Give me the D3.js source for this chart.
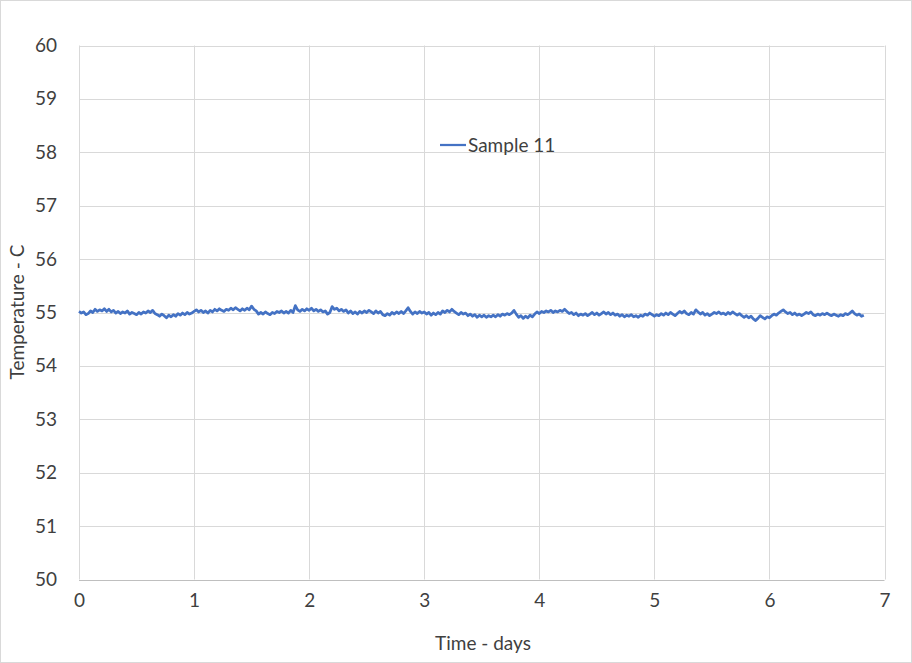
<!DOCTYPE html>
<html><head><meta charset="utf-8">
<script src="https://cdn.jsdelivr.net/npm/d3@7"></script>
<style>body{margin:0;background:#fff}svg{display:block}text{font-family:Lato,"Open Sans",sans-serif;fill:#3f3f3f}</style>
</head><body><svg id="c" width="912" height="663"></svg>
<script>
const seriesName = "Sample 11";
const xTicks = [0,1,2,3,4,5,6,7];
const yTicks = [50,51,52,53,54,55,56,57,58,59,60];
const timeStepDays = 0.02;
const temps = [
55.02,54.99,55.01,54.96,54.98, 55.03,55.00,55.06,55.02,55.05, 55.03,55.07,55.02,55.06,55.01, 55.04,54.99,55.02,54.98,55.01,
54.99,55.03,54.97,55.00,54.98, 54.96,55.00,54.97,55.01,54.99, 55.03,55.00,55.04,54.98,54.96, 54.93,54.97,54.94,54.90,54.95,
54.92,54.96,54.93,54.98,54.95, 54.99,54.96,55.00,54.97,54.99, 55.02,55.05,55.01,55.04,55.00, 55.03,54.99,55.04,55.01,55.06,
55.03,55.07,55.04,55.02,55.06, 55.04,55.08,55.05,55.09,55.06, 55.03,55.07,55.04,55.08,55.05, 55.12,55.06,55.03,54.97,55.00,
54.97,55.01,54.98,54.96,55.00, 54.98,55.02,55.00,55.03,54.99, 55.02,54.99,55.04,55.00,55.13, 55.05,55.02,55.06,55.03,55.07,
55.04,55.08,55.03,55.06,55.02, 55.05,55.01,55.03,54.97,55.00, 55.11,55.06,55.08,55.03,55.06, 55.02,55.05,54.99,55.03,54.98,
55.01,54.97,55.02,54.99,55.03, 55.00,55.04,55.01,54.98,55.03, 54.99,55.02,54.96,54.94,54.98, 54.95,55.00,54.97,55.01,54.98,
55.02,54.98,55.03,55.09,55.02, 54.97,55.01,54.98,55.02,54.99, 55.01,54.97,55.00,54.95,54.99, 54.96,55.00,54.97,55.03,55.00,
55.04,55.01,55.06,55.02,54.99, 54.96,55.00,54.97,54.99,54.94, 54.97,54.93,54.96,54.91,54.95, 54.92,54.95,54.91,54.94,54.92,
54.95,54.92,54.96,54.93,54.97, 54.95,54.98,54.96,54.99,55.04, 54.97,54.91,54.94,54.89,54.93, 54.90,54.95,54.92,54.97,55.01,
54.98,55.02,55.00,55.03,55.01, 55.04,55.00,55.03,55.01,55.04, 55.02,55.06,55.02,54.98,55.00, 54.96,54.99,54.94,54.97,54.95,
54.98,54.94,54.97,55.00,54.96, 54.99,54.95,54.98,55.01,54.97, 55.00,54.96,54.99,54.95,54.97, 54.93,54.96,54.92,54.95,54.93,
54.96,54.92,54.94,54.91,54.95, 54.93,54.97,54.95,54.99,54.96, 54.93,54.96,54.94,54.98,54.95, 54.99,54.96,55.00,54.97,54.94,
54.98,55.02,54.99,55.03,54.98, 54.96,55.00,54.97,55.05,55.01, 54.97,55.00,54.95,54.98,54.94, 54.97,55.00,54.98,55.01,54.97,
54.99,54.96,55.00,54.97,55.01, 54.98,54.95,54.98,54.94,54.91, 54.94,54.90,54.93,54.88,54.85, 54.89,54.94,54.91,54.88,54.92,
54.90,54.94,54.97,54.95,54.99, 55.02,55.05,55.01,54.98,55.00, 54.96,54.99,54.95,54.97,54.94, 54.97,55.00,54.98,55.01,54.96,
54.94,54.97,54.95,54.98,54.96, 54.99,54.96,54.94,54.97,54.95, 54.93,54.96,54.94,54.98,54.96, 54.99,55.03,54.98,54.95,54.97,
54.93,54.95
];
const data = temps.map((v, i) => ({t: i * timeStepDays, v}));

const svg = d3.select("#c");
svg.append("rect").attr("x",0.5).attr("y",0.5).attr("width",911).attr("height",662)
  .attr("fill","#fff").attr("stroke","#d9d9d9");

const L = 79, R = 884.5, T = 45.5, B = 579.5;
const x = d3.scaleLinear().domain([0,7]).range([L,R]);
const y = d3.scaleLinear().domain([50,60]).range([B,T]);

const g = svg.append("g");
g.selectAll(".hg").data(yTicks).join("line")
  .attr("x1",L).attr("x2",R).attr("y1",d=>Math.round(y(d))+0.5).attr("y2",d=>Math.round(y(d))+0.5)
  .attr("stroke",d=>d===50?"#bfbfbf":"#d9d9d9").attr("stroke-width",1);
g.selectAll(".vg").data(xTicks).join("line")
  .attr("y1",T).attr("y2",B).attr("x1",d=>Math.round(x(d))+0.5).attr("x2",d=>Math.round(x(d))+0.5)
  .attr("stroke","#d9d9d9").attr("stroke-width",1);

// y axis labels
const yAxis = d3.axisLeft(y).tickValues(yTicks).tickFormat(d3.format("d")).tickSize(0).tickPadding(22);
const ya = svg.append("g").attr("transform",`translate(${L},0)`).call(yAxis);
ya.select(".domain").remove();
ya.selectAll("text").attr("font-size","19px").attr("fill","#3f3f3f").style("font-family","Lato");
// x axis labels
const xAxis = d3.axisBottom(x).tickValues(xTicks).tickFormat(d3.format("d")).tickSize(0).tickPadding(14);
const xa = svg.append("g").attr("transform",`translate(0,${B})`).call(xAxis);
xa.select(".domain").remove();
xa.selectAll("text").attr("font-size","19px").attr("fill","#3f3f3f").style("font-family","Lato");

// series line
svg.append("path").datum(data)
  .attr("fill","none").attr("stroke","#4472C4").attr("stroke-width",2.75).attr("stroke-linejoin","round")
  .attr("d", d3.line().x(d=>x(d.t)).y(d=>y(d.v)));

// axis titles
svg.append("text").attr("x",483).attr("y",650).attr("text-anchor","middle")
  .attr("font-size","19px").text("Time - days");
svg.append("text").attr("transform","translate(24,312) rotate(-90)").attr("text-anchor","middle")
  .attr("font-size","19px").text("Temperature - C");

// legend
svg.append("line").attr("x1",440).attr("x2",466).attr("y1",145).attr("y2",145)
  .attr("stroke","#4472C4").attr("stroke-width",2.25);
svg.append("text").attr("x",468).attr("y",152).attr("font-size","19px").text(seriesName);
</script></body></html>
